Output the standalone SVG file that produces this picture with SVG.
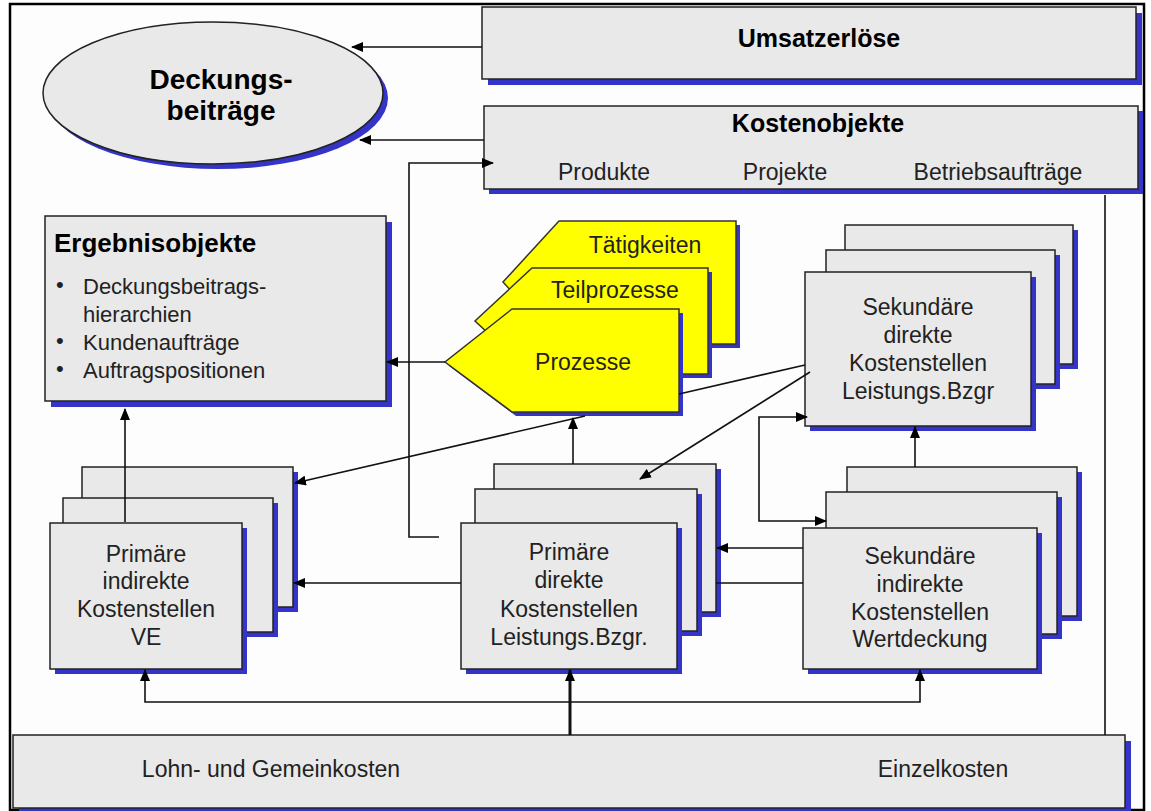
<svg xmlns="http://www.w3.org/2000/svg" width="1151" height="811" viewBox="0 0 1151 811">
<defs>
<marker id="ah" markerUnits="userSpaceOnUse" markerWidth="12" markerHeight="10" refX="11" refY="5" orient="auto-start-reverse"><path d="M0,0 L12,5 L0,10 z" fill="#000"/></marker>
<style>
.box{fill:#e9e9e9;stroke:#222;stroke-width:1.5}
.sh{fill:#3434c8}
.yel{fill:#ffff00;stroke:#333;stroke-width:1.5}
.t{font-family:"Liberation Sans",Arial,sans-serif;font-size:23px;fill:#222;text-anchor:middle}
.tb{font-family:"Liberation Sans",Arial,sans-serif;font-weight:bold;fill:#000;text-anchor:middle}
.ts{font-family:"Liberation Sans",Arial,sans-serif;font-size:22px;fill:#222;text-anchor:start}
.ln{fill:none;stroke:#111;stroke-width:1.6}
</style>
</defs>
<rect x="0" y="0" width="1151" height="811" fill="#fff"/>
<rect x="10" y="4" width="1134" height="806" fill="#fdfdfd" stroke="#000" stroke-width="2.5"/>

<g id="deckungsbeitraege">
<ellipse cx="218" cy="98" rx="170" ry="71" class="sh"/>
<ellipse cx="213" cy="93" rx="170" ry="71" class="box"/>
<text x="221" y="89" class="tb" font-size="28">Deckungs-</text>
<text x="221" y="120" class="tb" font-size="28">beiträge</text>
</g>

<g id="umsatzerloese">
<rect x="488" y="13" width="654" height="72" class="sh"/>
<rect x="482" y="7" width="654" height="72" class="box"/>
<text x="819" y="47" class="tb" font-size="25">Umsatzerlöse</text>
</g>

<g id="kostenobjekte">
<rect x="489" y="111" width="654" height="83" class="sh"/>
<rect x="484" y="106" width="654" height="83" class="box"/>
<text x="818" y="132" class="tb" font-size="25">Kostenobjekte</text>
<text x="604" y="180" class="t" font-size="22">Produkte</text>
<text x="785" y="180" class="t" font-size="22">Projekte</text>
<text x="998" y="180" class="t" font-size="22">Betriebsaufträge</text>
</g>

<g id="ergebnisobjekte">
<rect x="51" y="222" width="341" height="185" class="sh"/>
<rect x="45" y="216" width="341" height="185" class="box"/>
<text x="54" y="252" class="tb" font-size="26" style="text-anchor:start">Ergebnisobjekte</text>
<text x="56" y="292" class="ts" font-size="18">•</text><text x="83" y="294" class="ts">Deckungsbeitrags-</text>
<text x="83" y="322" class="ts">hierarchien</text>
<text x="56" y="348" class="ts" font-size="18">•</text><text x="83" y="350" class="ts">Kundenaufträge</text>
<text x="56" y="376" class="ts" font-size="18">•</text><text x="83" y="378" class="ts">Auftragspositionen</text>
</g>

<g id="taetigkeiten">
<polygon points="563,225 740,225 740,348 563,348 507,286" class="sh"/>
<polygon points="559,221 736,221 736,344 559,344 503,282" class="yel"/>
<text x="645" y="253" class="t" font-size="22">Tätigkeiten</text>
</g>
<g id="teilprozesse">
<polygon points="536,272 712,272 712,378 536,378 479,325" class="sh"/>
<polygon points="532,268 708,268 708,374 532,374 475,321" class="yel"/>
<text x="615" y="298" class="t" font-size="22">Teilprozesse</text>
</g>
<g id="prozesse">
<polygon points="516,313 683,313 683,416 516,416 449,366" class="sh"/>
<polygon points="512,309 679,309 679,412 512,412 445,362" class="yel"/>
<text x="583" y="370" class="t" font-size="22">Prozesse</text>
</g>

<g id="sekundaere-direkte">
<rect x="850" y="230" width="228" height="139" class="sh"/>
<rect x="845" y="225" width="228" height="139" class="box"/>
<rect x="831" y="255" width="229" height="134" class="sh"/>
<rect x="826" y="250" width="229" height="134" class="box"/>
<rect x="810" y="277" width="226" height="154" class="sh"/>
<rect x="805" y="272" width="226" height="154" class="box"/>
<text x="918" y="315" class="t">Sekundäre</text>
<text x="918" y="343" class="t">direkte</text>
<text x="918" y="371" class="t">Kostenstellen</text>
<text x="918" y="399" class="t">Leistungs.Bzgr</text>
</g>

<g id="primaere-indirekte">
<rect x="87" y="472" width="211" height="140" class="sh"/>
<rect x="82" y="467" width="211" height="140" class="box"/>
<rect x="68" y="503" width="210" height="134" class="sh"/>
<rect x="63" y="498" width="210" height="134" class="box"/>
<rect x="55" y="528" width="192" height="146" class="sh"/>
<rect x="50" y="523" width="192" height="146" class="box"/>
<text x="146" y="562" class="t">Primäre</text>
<text x="146" y="589" class="t">indirekte</text>
<text x="146" y="617" class="t">Kostenstellen</text>
<text x="146" y="645" class="t">VE</text>
</g>

<g id="primaere-direkte">
<rect x="499" y="469" width="222" height="148" class="sh"/>
<rect x="494" y="464" width="222" height="148" class="box"/>
<rect x="480" y="494" width="222" height="142" class="sh"/>
<rect x="475" y="489" width="222" height="142" class="box"/>
<rect x="466" y="528" width="216" height="146" class="sh"/>
<rect x="461" y="523" width="216" height="146" class="box"/>
<text x="569" y="560" class="t">Primäre</text>
<text x="569" y="588" class="t">direkte</text>
<text x="569" y="617" class="t">Kostenstellen</text>
<text x="569" y="645" class="t">Leistungs.Bzgr.</text>
</g>

<g id="sekundaere-indirekte">
<rect x="852" y="472" width="230" height="149" class="sh"/>
<rect x="847" y="467" width="230" height="149" class="box"/>
<rect x="831" y="497" width="231" height="142" class="sh"/>
<rect x="826" y="492" width="231" height="142" class="box"/>
<rect x="808" y="533" width="234" height="141" class="sh"/>
<rect x="803" y="528" width="234" height="141" class="box"/>
<text x="920" y="564" class="t">Sekundäre</text>
<text x="920" y="592" class="t">indirekte</text>
<text x="920" y="620" class="t">Kostenstellen</text>
<text x="920" y="647" class="t">Wertdeckung</text>
</g>

<g id="kosten-basis">
<rect x="19" y="741" width="1112" height="73" class="sh"/>
<rect x="13" y="735" width="1112" height="73" class="box"/>
<text x="271" y="777" class="t">Lohn- und Gemeinkosten</text>
<text x="943" y="777" class="t">Einzelkosten</text>
</g>

<g id="connectors" class="ln">
<path d="M482,47 L352,47" marker-end="url(#ah)"/>
<path d="M484,140 L360,140" marker-end="url(#ah)"/>
<path d="M439,537 L409,537 L409,163 L493,163" marker-end="url(#ah)"/>
<path d="M445,362 L387,362" marker-end="url(#ah)"/>
<path d="M125,522 L125,409" marker-end="url(#ah)"/>
<path d="M805,365 L679,394 M585,416 L295,483" marker-end="url(#ah)"/>
<path d="M810,372 L640,479" marker-end="url(#ah)"/>
<path d="M807,417 L759,417 L759,521 L826,521" marker-start="url(#ah)" marker-end="url(#ah)"/>
<path d="M803,548 L717,548" marker-end="url(#ah)"/>
<path d="M803,583 L716,583 M461,583 L294,583" marker-end="url(#ah)"/>
<path d="M573,464 L573,418" marker-end="url(#ah)"/>
<path d="M915,467 L915,427" marker-end="url(#ah)"/>
<path d="M145,670 L145,702 L920,702 L920,670" marker-start="url(#ah)" marker-end="url(#ah)"/>
<path d="M570,735 L570,670" stroke-width="3" marker-end="url(#ah)"/>
<path d="M1105,195 L1105,735"/>
</g>
</svg>
